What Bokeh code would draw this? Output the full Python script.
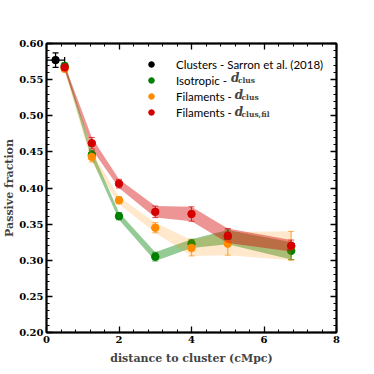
from bokeh.plotting import figure
from bokeh.models import (Whisker, ColumnDataSource, LinearAxis, Range1d, Legend, LegendItem,
                          Label, FixedTicker, PrintfTickFormatter)
from bokeh.embed import file_html
from bokeh.resources import INLINE
import numpy as np

# ---- data ----
clu_x = [0.25]
clu_y = [0.577]
clu_xerr = [0.25]
clu_yerr = [0.010]

dist = [0.5, 1.25, 2.0, 3.0, 4.0, 5.0, 6.75]
iso_y = [0.569, 0.446, 0.361, 0.305, 0.323, 0.332, 0.313]
iso_err = [0.004, 0.006, 0.005, 0.006, 0.006, 0.010, 0.012]
fil_y = [0.565, 0.443, 0.383, 0.345, 0.317, 0.323, 0.320]
fil_err = [0.004, 0.007, 0.005, 0.007, 0.011, 0.016, 0.020]
fil2_y = [0.567, 0.462, 0.406, 0.367, 0.364, 0.334, 0.320]
fil2_err = [0.004, 0.008, 0.006, 0.008, 0.010, 0.010, 0.008]

x_ticks = [0, 2, 4, 6, 8]
y_ticks = [0.20, 0.25, 0.30, 0.35, 0.40, 0.45, 0.50, 0.55, 0.60]
x_minor = [round(v, 3) for v in np.arange(0, 8.001, 0.4)]
y_minor = [round(v, 3) for v in np.arange(0.20, 0.6001, 0.01)]

labels = ["Clusters - Sarron et al. (2018)", "Isotropic - ", "Filaments - ", "Filaments - "]
subs = ["clus", "clus", "clus,fil"]

GREEN = "#008000"
ORANGE = "#ff8c00"
RED = "#d40000"

SERIF = "DejaVu Serif"

p = figure(frame_width=290, frame_height=289, output_backend="svg", toolbar_location=None,
           x_range=Range1d(0, 8), y_range=Range1d(0.2, 0.6),
           min_border_left=41, min_border_right=27, min_border_top=43, min_border_bottom=33)
p.xgrid.visible = False
p.ygrid.visible = False
p.outline_line_color = "black"
p.outline_line_width = 1.5
p.background_fill_color = "white"
p.border_fill_color = "white"


def style_axis(ax, show_labels=True):
    ax.axis_line_width = 2
    ax.axis_line_color = "black"
    ax.major_tick_in = 6
    ax.major_tick_out = 0
    ax.minor_tick_in = 3
    ax.minor_tick_out = 0
    ax.major_tick_line_width = 1.3
    ax.minor_tick_line_width = 1
    ax.major_label_text_font = SERIF
    ax.major_label_text_font_style = "bold"
    ax.major_label_text_font_size = "10px"
    ax.major_label_text_color = "black"
    ax.major_label_standoff = 3
    if not show_labels:
        ax.major_label_text_alpha = 0
        ax.major_label_text_font_size = "0px"
        ax.major_label_standoff = 0


xt = FixedTicker(ticks=x_ticks, minor_ticks=x_minor)
yt = FixedTicker(ticks=y_ticks, minor_ticks=y_minor)
p.xaxis[0].ticker = xt
p.yaxis[0].ticker = yt
p.yaxis[0].formatter = PrintfTickFormatter(format="%.2f")
style_axis(p.xaxis[0])
style_axis(p.yaxis[0])
p.xaxis[0].axis_label = "distance to cluster (cMpc)"
p.yaxis[0].axis_label = "Passive fraction"
for ax in (p.xaxis[0], p.yaxis[0]):
    ax.axis_label_text_font = SERIF
    ax.axis_label_text_font_style = "bold"
    ax.axis_label_text_font_size = "11px"
p.xaxis[0].axis_label_standoff = 6
p.yaxis[0].axis_label_standoff = 0

right = LinearAxis(ticker=FixedTicker(ticks=y_ticks, minor_ticks=y_minor))
top = LinearAxis(ticker=FixedTicker(ticks=x_ticks, minor_ticks=x_minor))
style_axis(right, False)
style_axis(top, False)
p.add_layout(right, "right")
p.add_layout(top, "above")

rends = []
for y, err, col, a in [(iso_y, iso_err, GREEN, 0.42), (fil_y, fil_err, ORANGE, 0.2), (fil2_y, fil2_err, RED, 0.42)]:
    lo = [u - v for u, v in zip(y, err)]
    hi = [u + v for u, v in zip(y, err)]
    src = ColumnDataSource(dict(x=dist, y=y, lo=lo, hi=hi))
    p.varea(x="x", y1="lo", y2="hi", source=src, fill_color=col, fill_alpha=a)
    w = Whisker(base="x", lower="lo", upper="hi", source=src, dimension="height",
                line_color=col, line_alpha=0.7, line_width=1.2)
    for h in (w.upper_head, w.lower_head):
        h.size = 6
        h.line_color = col
        h.line_alpha = 0.7
    p.add_layout(w)
    r = p.scatter(x="x", y="y", source=src, size=7.5, fill_color=col, line_color=col)
    rends.append(r)

# clusters
csrc = ColumnDataSource(dict(x=clu_x, y=clu_y,
                             xlo=[u - v for u, v in zip(clu_x, clu_xerr)],
                             xhi=[u + v for u, v in zip(clu_x, clu_xerr)],
                             ylo=[u - v for u, v in zip(clu_y, clu_yerr)],
                             yhi=[u + v for u, v in zip(clu_y, clu_yerr)]))
for dim, lo, hi, base in [("height", "ylo", "yhi", "x"), ("width", "xlo", "xhi", "y")]:
    w = Whisker(base=base, lower=lo, upper=hi, source=csrc, dimension=dim,
                line_color="black", line_width=1.3)
    for h in (w.upper_head, w.lower_head):
        h.size = 6
        h.line_width = 1.3
    p.add_layout(w)
rc = p.scatter(x="x", y="y", source=csrc, size=7.5, fill_color="black", line_color="black")

legend = Legend(items=[LegendItem(label=labels[0], renderers=[rc]),
                       LegendItem(label=labels[1], renderers=[rends[0]]),
                       LegendItem(label=labels[2], renderers=[rends[1]]),
                       LegendItem(label=labels[3], renderers=[rends[2]])],
                location=(91, 209), padding=4, spacing=2, glyph_height=14, label_height=14,
                glyph_width=20, label_standoff=15, border_line_alpha=0,
                background_fill_alpha=0, label_text_font="Lato", label_text_font_size="11.5px",
                label_text_color="black")
p.add_layout(legend)

# math parts of the legend labels
row_y = [0.5529, 0.5294, 0.5058]
row_x = [5.09, 5.19, 5.19]
for xx, yy, s in zip(row_x, row_y, subs):
    p.add_layout(Label(x=xx, y=yy, text="d", text_font=SERIF, text_font_style="bold italic",
                       text_font_size="12px", text_baseline="middle", text_align="left"))
    p.add_layout(Label(x=xx + 0.19, y=yy - 0.004, text=s, text_font=SERIF, text_font_style="bold",
                       text_font_size="7.5px", text_baseline="middle", text_align="left"))

open("out.html", "w").write(file_html(p, INLINE))
